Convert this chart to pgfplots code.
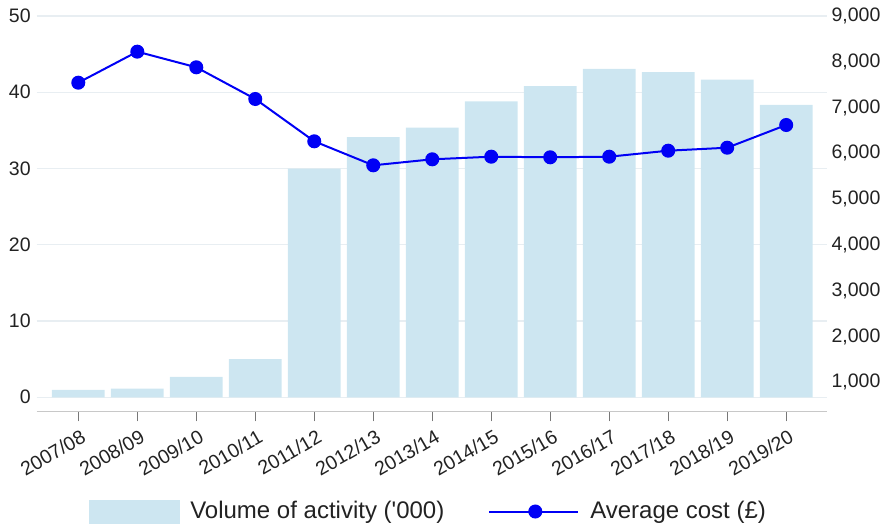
\documentclass[border=0pt]{standalone}
\usepackage{fontspec}
\setmainfont{Liberation Sans}
\usepackage{pgfplots}
\pgfplotsset{compat=1.18}
\definecolor{barblue}{HTML}{CDE6F1}
\definecolor{lineblue}{HTML}{0000F5}
\definecolor{gridc}{HTML}{E8EEF2}
\definecolor{axisc}{HTML}{C8C8C8}
\definecolor{tickc}{HTML}{777777}
\definecolor{txt}{HTML}{222222}

\begin{document}
\begin{tikzpicture}
\path[use as bounding box] (0,0) rectangle (442.5pt,265.5pt);
\begin{axis}[
  at={(18.35pt,59.85pt)}, anchor=south west,
  scale only axis, width=395.4pt, height=197.65pt,
  xmin=-0.705, xmax=12.70, ymin=-1.84, ymax=50,
  axis x line*=bottom, axis y line*=left,
  y axis line style={draw=none},
  x axis line style={draw=axisc, line width=0.7pt},
  ytick={0,10,20,30,40,50},
  ymajorgrids, grid style={draw=gridc, line width=0.7pt},
  ytick style={draw=none},
  xtick={0,1,2,3,4,5,6,7,8,9,10,11,12},
  xticklabels={2007/08,2008/09,2009/10,2010/11,2011/12,2012/13,2013/14,2014/15,2015/16,2016/17,2017/18,2018/19,2019/20},
  xtick style={draw=tickc, line width=0.7pt},
  major tick length=5pt, tick align=outside,
  x tick label style={rotate=30, anchor=north east, inner sep=2pt, yshift=-1.5pt, xshift=1pt, font=\fontsize{9.8}{10}\selectfont, text=txt},
  y tick label style={font=\fontsize{9.75}{11}\selectfont, text=txt, xshift=5.5pt},
  /pgf/number format/assume math mode=true,
]
\addplot[ybar, bar width=26.3pt, fill=barblue, draw=none] coordinates {
  (0,0.96) (1,1.13) (2,2.67) (3,5.0) (4,30.0) (5,34.1) (6,35.35)
  (7,38.8) (8,40.8) (9,43.05) (10,42.65) (11,41.65) (12,38.33)
};
\end{axis}
\begin{axis}[
  at={(18.35pt,59.85pt)}, anchor=south west,
  scale only axis, width=395.4pt, height=197.65pt,
  xmin=-0.705, xmax=12.70, ymin=369, ymax=9000,
  axis y line*=right, axis x line=none,
  y axis line style={draw=none},
  ytick={1000,2000,3000,4000,5000,6000,7000,8000,9000},
  ytick style={draw=none},
  scaled y ticks=false,
  y tick label style={font=\fontsize{9.75}{11}\selectfont, text=txt, xshift=-1.5pt, /pgf/number format/1000 sep={,}},
  /pgf/number format/assume math mode=true,
  clip=false,
  legend columns=2,
  legend cell align=left,
  legend style={at={(0.497,-0.2535)}, anchor=center, draw=none, fill=none,
    font=\fontsize{12}{14}\selectfont, text=txt,
    /tikz/every even column/.append style={column sep=20pt}},
]
\addlegendimage{legend image code/.code={\fill[barblue] (0pt,-5.75pt) rectangle (45pt,5.75pt); \path (48pt,0);}}
\addlegendentry{Volume of activity (\textquotesingle 000)}
\addplot[lineblue, line width=1pt, mark=*, mark size=3pt, mark options={fill=lineblue, draw=lineblue},
  legend image code/.code={\draw[lineblue, line width=1pt] (0pt,0) -- (44.5pt,0); \fill[lineblue] (23pt,0) circle (3pt); \path (48pt,0);}]
 coordinates {
  (0,7544) (1,8221) (2,7880) (3,7188) (4,6264) (5,5740) (6,5871)
  (7,5928) (8,5915) (9,5928) (10,6059) (11,6124) (12,6620)
};
\addlegendentry{Average cost (£)}
\end{axis}
\end{tikzpicture}
\end{document}
